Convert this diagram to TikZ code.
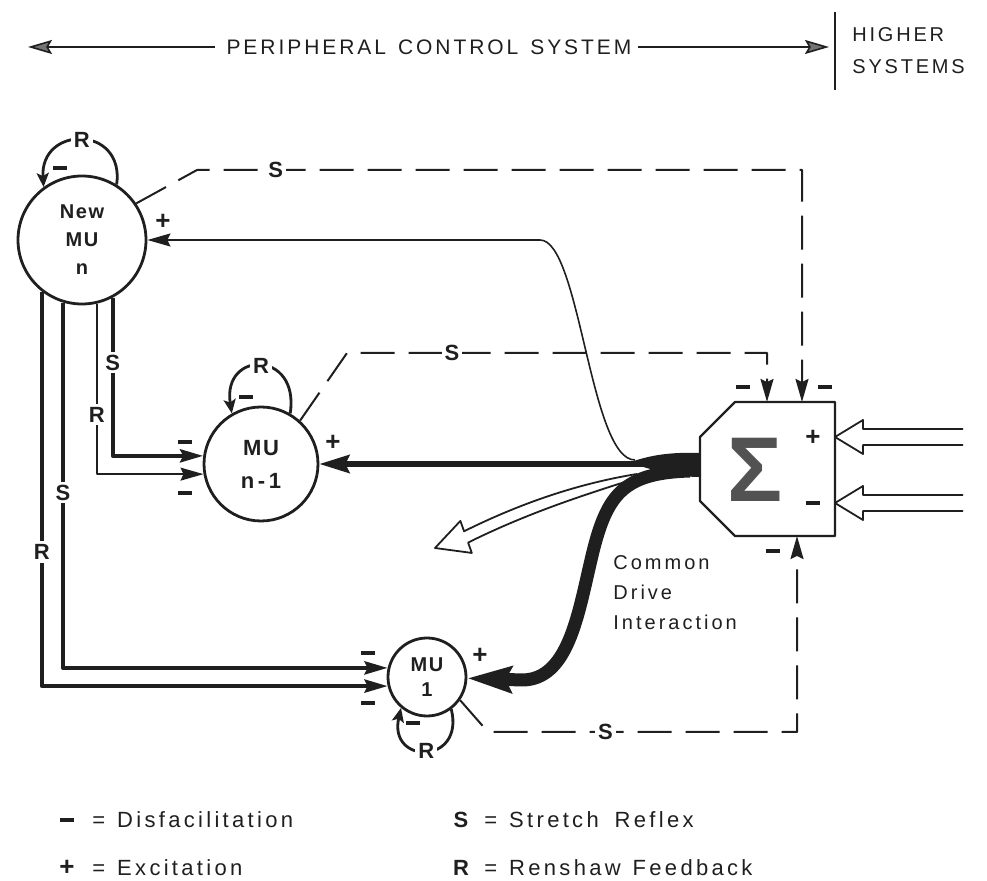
\documentclass[tikz,border=0pt]{standalone}
\usepackage{fontspec}
\setmainfont{Liberation Sans}
\newfontfamily\hdrfont[LetterSpace=14]{Liberation Sans}
\newfontfamily\legfont[LetterSpace=15]{Liberation Sans}
\newfontfamily\mufont[LetterSpace=8]{Liberation Sans}
\usetikzlibrary{arrows.meta, calc}

\definecolor{ink}{gray}{0.12}
\definecolor{sigmagray}{gray}{0.32}
\newcommand{\dashsign}{\rule{7pt}{1.6pt}}

\begin{document}
\begin{tikzpicture}[x=0.5pt, y=-0.5pt, color=ink, line join=round,
  >={Stealth[length=11.5pt, width=6.5pt, inset=1.5pt]},
  mu/.style={draw, circle, line width=1.4pt, align=center, inner sep=0pt},
  lbl/.style={fill=white, inner sep=1.5pt, font=\bfseries\fontsize{11}{11}\selectfont},
  sgn/.style={inner sep=0pt, font=\bfseries\fontsize{13}{13}\selectfont},
  thinln/.style={line width=0.8pt},
  thickln/.style={line width=2pt},
  fbline/.style={line width=1pt, dash pattern=on 17pt off 7pt},
  loopln/.style={line width=1.4pt, -{Stealth[length=7pt, width=6pt, inset=1.5pt]}},
  hollow/.style={line width=0.9pt},
  leg/.style={anchor=west, inner sep=0pt, font=\legfont\fontsize{11}{12}\selectfont}]

  \useasboundingbox (0,0) rectangle (987,881);

  % Header
  \node[inner sep=0pt, font=\hdrfont\fontsize{10.5}{12}\selectfont] (periph) at (429,47)
        {PERIPHERAL\hspace{6pt}CONTROL\hspace{6pt}SYSTEM};
  \coordinate (lend) at (28,47);
  \coordinate (rend) at (829,47);
  \draw[thinln, -{Stealth[length=12pt, width=7pt, inset=2pt, fill=black!55]}]
        ($(periph.west)+(-11,0)$) -- (lend);
  \draw[thinln, -{Stealth[length=12pt, width=7pt, inset=2pt, fill=black!55]}]
        ($(periph.east)+(6,0)$) -- (rend);
  \coordinate (bartop) at (835,12);
  \coordinate (barbot) at (835,90);
  \draw[thinln] (bartop) -- (barbot);
  \node[anchor=west, align=left, inner sep=0pt, font=\hdrfont\fontsize{10}{16}\selectfont]
        (higher) at (852,51) {HIGHER\\SYSTEMS};

  % Motor units
  \node[mu, minimum size=64pt, font=\bfseries\mufont\fontsize{10}{14}\selectfont]
        (newmu) at (82,240) {New\\MU\\n};
  \node[mu, minimum size=57pt, font=\bfseries\mufont\fontsize{11}{16.5}\selectfont]
        (mun1) at (261,464) {MU\\n\,-\,1};
  \node[mu, minimum size=39pt, font=\bfseries\mufont\fontsize{10}{12.5}\selectfont]
        (mu1) at (427,677) {MU\\1};

  % Summing box
  \node[minimum width=67.5pt, minimum height=67pt, inner sep=0pt, outer sep=0pt]
        (sum) at (767.5,469) {};
  \draw[line width=1.2pt] ($(sum.north west)+(35,0)$) -- (sum.north east)
        -- (sum.south east) -- ($(sum.south west)+(35,0)$)
        -- ($(sum.south west)+(0,-35)$) -- ($(sum.north west)+(0,35)$) -- cycle;
  \node[inner sep=0pt, text=sigmagray, font=\bfseries\fontsize{46}{46}\selectfont]
        (sigma) at (755,470) {Σ};
  \node[sgn] (bp) at (813,438) {+};
  \node[sgn] (bm) at (813,503) {\dashsign};
  \node[sgn] (tm1) at (743,387) {\dashsign};
  \node[sgn] (tm2) at (825,387) {\dashsign};
  \node[sgn] (bm2) at (773,551) {\dashsign};

  % Stretch reflex feedback
  \coordinate (k1) at (197,170);
  \coordinate (c1) at (802,170);
  \draw[fbline, ->] (newmu.34) -- (k1) -- node[lbl, pos=.13] (s1) {S} (c1) -- (c1 |- sum.north);
  \coordinate (k2) at (347,353);
  \coordinate (c2) at (767,353);
  \draw[fbline, ->] (mun1.48) -- (k2) -- node[lbl, pos=.25] (s2) {S} (c2) -- (c2 |- sum.north);
  \coordinate (k3) at (488,732);
  \coordinate (c3) at (797,732);
  \draw[fbline, ->] (mu1.-35) -- (k3) -- node[lbl, pos=.38] (s3) {S} (c3) -- (c3 |- sum.south);

  % Renshaw loops
  \draw[loopln] (newmu.58) .. controls (125,125) and (40,125) .. node[lbl] (r1) {R} (newmu.126);
  \draw[loopln] (mun1.60) .. controls (300,350) and (222,350) .. node[lbl] (r2) {R} (mun1.120);
  \draw[loopln] (mu1.-53) .. controls (465,765) and (388,765) .. node[lbl] (r3) {R} (mu1.-130);
  \node[sgn] (lm1) at (60,168) {\dashsign};
  \node[sgn] (lm2) at (246,397) {\dashsign};
  \node[sgn] (lm3) at (413,723) {\dashsign};

  % Fibres from New MU
  \draw[thickln, ->] (newmu.-62) -- node[lbl, pos=.41] (s4) {S} (newmu.-62 |- mun1.172) -- (mun1.172);
  \draw[thinln, ->] (newmu.-77) -- node[lbl, pos=.65] (r4) {R} (newmu.-77 |- mun1.190) -- (mun1.190);
  \draw[thickln, ->] (newmu.-107) -- node[lbl, pos=.52] (s5) {S} (newmu.-107 |- mu1.167) -- (mu1.167);
  \draw[thickln, ->] (newmu.-128) -- node[lbl, pos=.66] (r5) {R} (newmu.-128 |- mu1.193) -- (mu1.193);

  % Signs at the units
  \node[sgn] (np) at (163,222) {+};
  \node[sgn] (n1p) at (333,443) {+};
  \node[sgn] (n1m1) at (185,442) {\dashsign};
  \node[sgn] (n1m2) at (185,493) {\dashsign};
  \node[sgn] (u1m1) at (368,653) {\dashsign};
  \node[sgn] (u1m2) at (368,703) {\dashsign};
  \node[sgn] (u1p) at (480,656) {+};

  % Common drive
  \draw[thinln, ->] (635,460) .. controls (590,460) and (580,240) .. (540,240) -- (newmu);
  \draw[line width=2.6pt, -{Stealth[length=15pt, width=9pt, inset=2pt]}] (sum.west |- mun1) -- (mun1);
  \draw[line width=6.5pt, -{Stealth[length=22pt, width=13pt, inset=3pt]}]
        (690,471) .. controls (622,473) and (606,495) .. (591,560)
        .. controls (578,615) and (568,680) .. (522,680) -- (mu1);
  \begin{scope}[shift={(435,548)}, rotate=19.6]
    \draw[hollow] (215,-2) .. controls (160,-12) and (100,-14) .. (33,-6) -- (33,-17) -- (0,0)
          -- (33,17) -- (33,6) .. controls (100,-2) and (160,0) .. (215,2);
  \end{scope}
  \fill ($(sum.west)+(0,-16)$) .. controls (670,452) and (650,455) .. (628,463)
        .. controls (650,468) and (670,477) .. ($(sum.west)+(0,8)$) -- cycle;
  \node[anchor=west, align=left, inner sep=0pt, font=\legfont\fontsize{10}{15}\selectfont]
        (cdi) at (613,593) {Common\\Drive\\Interaction};

  % Higher inputs
  \coordinate (pin1) at ($(sum.east)+(0,-32)$);
  \coordinate (pin2) at ($(sum.east)+(0,34)$);
  \draw[hollow] (pin1) ++(128,-8) -- ++(-100,0) -- ++(0,-9) -- (pin1) -- ++(28,17) -- ++(0,-9) -- ++(100,0);
  \draw[hollow] (pin2) ++(128,-8) -- ++(-100,0) -- ++(0,-9) -- (pin2) -- ++(28,17) -- ++(0,-9) -- ++(100,0);

  % Legend
  \node[sgn] (lgm) at (67,820) {\dashsign};
  \node[leg] (lgmt) at (92,820) {=\hspace{6pt}Disfacilitation};
  \node[sgn] (lgp) at (67,868) {+};
  \node[leg] (lgpt) at (92,868) {=\hspace{6pt}Excitation};
  \node[inner sep=0pt, font=\bfseries\fontsize{11}{11}\selectfont] (lgs) at (461,820) {S};
  \node[leg] (lgst) at (484,820) {=\hspace{6pt}Stretch\hspace{8pt}Reflex};
  \node[inner sep=0pt, font=\bfseries\fontsize{11}{11}\selectfont] (lgr) at (461,868) {R};
  \node[leg] (lgrt) at (484,868) {=\hspace{6pt}Renshaw\hspace{6pt}Feedback};
\end{tikzpicture}
\end{document}
